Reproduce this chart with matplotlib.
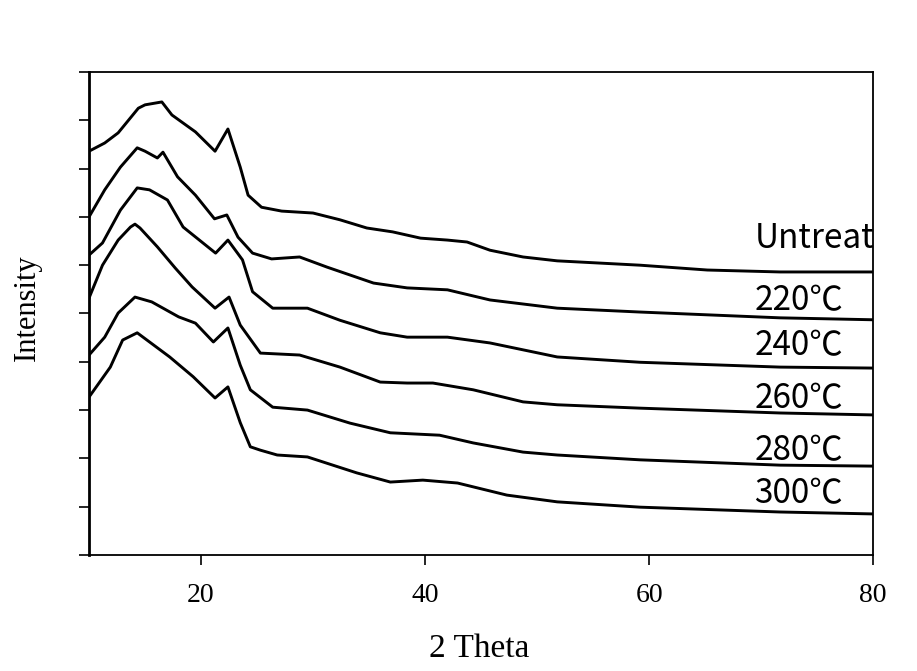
import matplotlib
matplotlib.use('Agg')
import matplotlib.pyplot as plt

# XRD patterns (stacked, arbitrary intensity units)
x_untreat = [10, 11.4, 12.6, 14.4, 15.0, 16.5, 17.4, 19.5, 21.25, 22.4, 23.5, 24.2, 25.4, 27.2,
             30, 32.4, 34.8, 37.1, 39.6, 42, 43.75, 45.8, 48.75, 51.8, 59.2, 65.2, 71.7, 80]
y_untreat = [8.36, 8.53, 8.74, 9.25, 9.32, 9.38, 9.11, 8.76, 8.36, 8.82, 8.03, 7.45, 7.20, 7.12,
             7.08, 6.94, 6.77, 6.69, 6.56, 6.52, 6.48, 6.31, 6.17, 6.09, 6.00, 5.90, 5.86, 5.86]

x_220 = [10, 11.4, 12.8, 14.3, 15.0, 16.1, 16.6, 17.9, 19.5, 21.2, 22.3, 23.3, 24.6, 26.3,
         28.8, 31.25, 35.4, 38.4, 42, 45.8, 51.8, 59.2, 71.7, 80]
y_220 = [7.00, 7.56, 8.03, 8.43, 8.36, 8.22, 8.34, 7.83, 7.45, 6.96, 7.04, 6.58, 6.25, 6.13,
         6.17, 5.96, 5.63, 5.53, 5.49, 5.28, 5.11, 5.03, 4.91, 4.87]

x_240 = [10, 11.2, 12.8, 14.3, 15.4, 17.0, 18.4, 21.3, 22.4, 23.7, 24.6, 26.4, 29.5, 32.4,
         36, 38.4, 42, 45.8, 51.8, 59.2, 71.7, 80]
y_240 = [6.21, 6.46, 7.14, 7.60, 7.56, 7.35, 6.79, 6.25, 6.52, 6.11, 5.45, 5.11, 5.11, 4.86,
         4.60, 4.51, 4.51, 4.39, 4.10, 3.99, 3.89, 3.87]

x_260 = [10, 11.2, 12.6, 13.7, 14.1, 14.55, 16.1, 17.7, 19.2, 21.25, 22.5, 23.5, 25.3, 28.8,
         32.4, 36, 38.4, 40.7, 44.3, 48.75, 51.8, 59.2, 71.7, 80]
y_260 = [5.32, 6.00, 6.52, 6.79, 6.85, 6.77, 6.38, 5.94, 5.55, 5.11, 5.34, 4.76, 4.18, 4.14,
         3.89, 3.58, 3.56, 3.56, 3.42, 3.17, 3.11, 3.04, 2.94, 2.90]

x_280 = [10, 11.4, 12.6, 14.1, 15.6, 18.0, 19.5, 21.1, 22.4, 23.5, 24.4, 26.4, 29.5, 33.3,
         36.9, 41.3, 44.3, 48.75, 51.8, 59.2, 71.7, 80]
y_280 = [4.14, 4.51, 5.01, 5.34, 5.24, 4.93, 4.80, 4.41, 4.70, 3.93, 3.42, 3.06, 3.00, 2.73,
         2.53, 2.48, 2.32, 2.13, 2.07, 1.97, 1.86, 1.84]

x_300 = [10, 11.9, 13.0, 14.3, 17.2, 19.3, 21.25, 22.4, 23.5, 24.4, 25.3, 26.8, 29.5, 33.9,
         36.9, 39.8, 42.9, 47.3, 51.8, 59.2, 71.7, 80]
y_300 = [3.27, 3.89, 4.45, 4.60, 4.10, 3.69, 3.25, 3.48, 2.74, 2.24, 2.17, 2.07, 2.03, 1.70,
         1.51, 1.55, 1.49, 1.24, 1.10, 0.99, 0.89, 0.85]

labels = ['Untreat', '220℃', '240℃', '260℃', '280℃', '300℃']
label_y = [6.36, 5.07, 4.14, 3.04, 1.97, 1.08]  # baselines of the right-hand labels

series = [(x_untreat, y_untreat), (x_220, y_220), (x_240, y_240),
          (x_260, y_260), (x_280, y_280), (x_300, y_300)]

fig = plt.figure(figsize=(9.17, 6.71), dpi=100)
ax = fig.add_axes([0.0971, 0.1729, 0.855, 0.7198])

for xs, ys in series:
    ax.plot(xs, ys, color='black', lw=2.1, solid_joinstyle='round')

for lab, ly in zip(labels, label_y):
    ax.text(69.4, ly, lab, fontsize=24, va='baseline', ha='left',
            family=['Noto Sans CJK KR', 'DejaVu Sans'])

ax.set_xlim(10, 80)
ax.set_ylim(0, 10)
ax.set_xticks([20, 40, 60, 80])
ax.set_xticklabels(['20', '40', '60', '80'], family='Liberation Serif', fontsize=20)
ax.set_yticks(range(0, 11))
ax.set_yticklabels([])
ax.tick_params(direction='out', length=7, width=1.2, pad=13)

for sp in ax.spines.values():
    sp.set_linewidth(1.3)
ax.spines['left'].set_linewidth(2)

# axis titles placed by hand so they sit where the original has them
fig.text(479 / 917, 1 - 657 / 671, '2 Theta', family='Liberation Serif', fontsize=24,
         ha='center', va='baseline')
fig.text(27 / 917, 1 - 308 / 671, 'Intensity', family='Liberation Serif', fontsize=22,
         rotation=90, ha='center', va='center')

fig.savefig('out.png', dpi=100)
